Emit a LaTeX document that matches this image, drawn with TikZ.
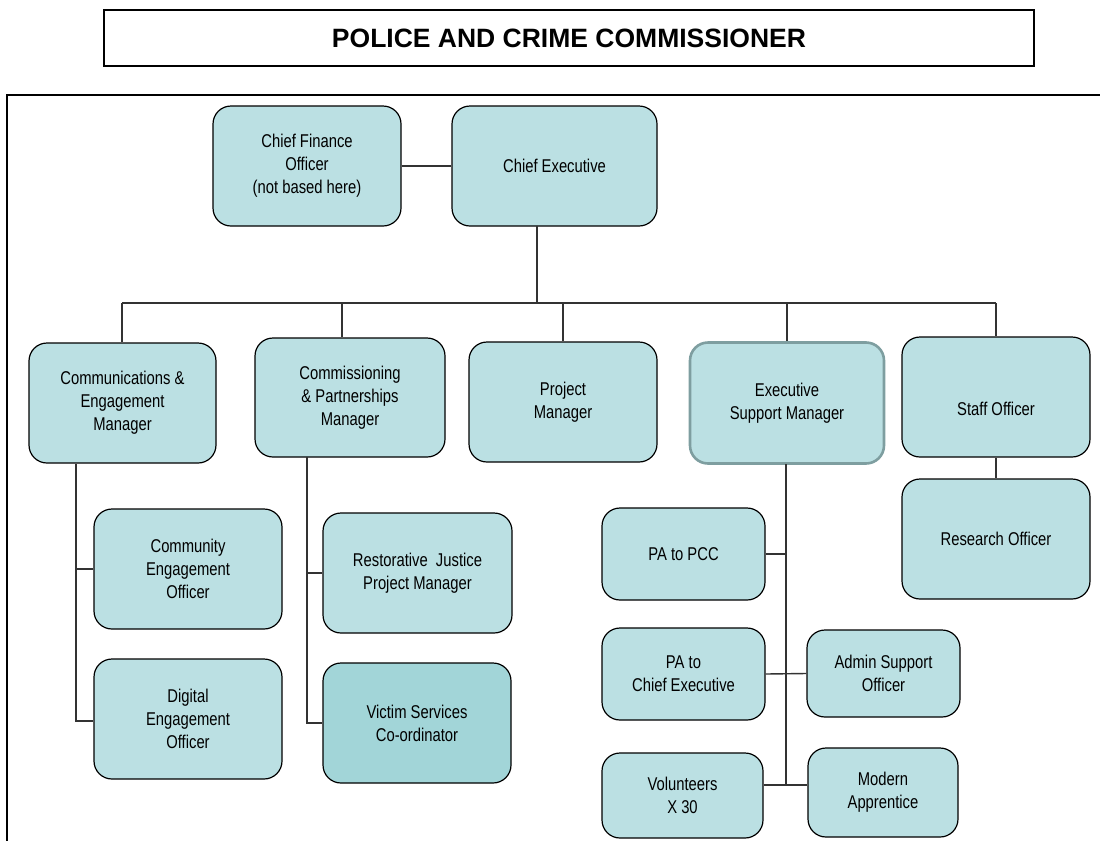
\documentclass[tikz,border=0pt]{standalone}
\usepackage{fontspec}
\setmainfont{Liberation Sans}[FakeStretch=0.8]
\newfontfamily\titlefont{Liberation Sans}
\definecolor{boxfill}{HTML}{BBE0E3}
\definecolor{boxdark}{HTML}{A2D5D8}
\definecolor{greyedge}{HTML}{7E9EA0}
\definecolor{linecol}{HTML}{333333}
\tikzset{
  post/.style={draw=black, line width=1.2pt, fill=boxfill, rounded corners=18pt,
    align=center, inner sep=0pt, font=\fontsize{18.5}{23}\selectfont},
  posttext/.style={align=center, inner sep=0pt, font=\fontsize{18.5}{23}\selectfont},
  conn/.style={draw=linecol, line width=1.4pt},
}
\newcommand{\bx}[6]{% name, x1, y1, x2, y2, text
  \node[post, minimum width={(#4-#2)*1pt}, minimum height={(#5-#3)*1pt}] (#1) at ({(#2+#4)/2},{(#3+#5)/2}) {#6};}
\begin{document}
\begin{tikzpicture}[x=1pt,y=-1pt]
\useasboundingbox (0,0) rectangle (1100,841);
% title
\node[draw=black, line width=1.8pt, minimum width=930pt, minimum height=56pt, inner sep=0pt,
  font=\titlefont\bfseries\fontsize{26.5}{30}\selectfont] (pcc) at (569,38) {POLICE AND CRIME COMMISSIONER};
% frame
\coordinate (fl) at (7,95);
\coordinate (fr) at (1100,95);
\coordinate (fb) at (7,841);
\draw[line width=1.8pt] (fr) -- (fl) -- (fb);
% top row
\bx{cfo}{213}{106}{401}{226}{Chief Finance\\Officer\\(not based here)}
\bx{ce}{452}{106}{657}{226}{Chief Executive}
% second row
\bx{comm}{29}{343}{216}{463}{Communications \&\\Engagement\\Manager}
\bx{cpm}{255}{338}{445}{457}{Commissioning\\\& Partnerships\\Manager}
\bx{pm}{469}{342}{657}{462}{Project\\Manager}
\node[post, draw=greyedge, line width=2.6pt, minimum width=194pt, minimum height=121pt] (esm) at (787,403) {Executive\\Support Manager};
\bx{so}{902}{337}{1090}{457}{}
\node[posttext] (sotext) at ([yshift=-12pt]so.center) {Staff Officer};
\bx{ro}{902}{479}{1090}{599}{Research Officer}
% left column
\bx{ceo}{94}{509}{282}{629}{Community\\Engagement\\Officer}
\bx{deo}{94}{659}{282}{779}{Digital\\Engagement\\Officer}
% commissioning column
\bx{rj}{323}{513}{512}{633}{Restorative~~Justice\\Project Manager}
\node[post, fill=boxdark, minimum width=188pt, minimum height=120pt] (vsc) at (417,723) {Victim Services\\Co-ordinator};
% exec column
\bx{papcc}{602}{508}{765}{600}{PA to PCC}
\bx{pace}{602}{628}{765}{720}{PA to\\Chief Executive}
\bx{aso}{807}{630}{960}{717}{Admin Support\\Officer}
\bx{vol}{602}{753}{763}{838}{Volunteers\\X 30}
\bx{ma}{808}{748}{958}{837}{Modern\\Apprentice}
% connectors
\coordinate (busl) at (122,303);
\coordinate (busr) at (996,303);
\coordinate (cebot) at (537,226);
\draw[conn] (cfo.east) -- (cfo.east -| ce.west);
\draw[conn] (cebot) -- (cebot |- busl);
\draw[conn] (busl) -- (busr);
\draw[conn] (busl) -- (busl |- comm.north);
\coordinate (cpmtop) at (342,303);
\draw[conn] (cpmtop) -- (cpmtop |- cpm.north);
\draw[conn] (pm.north |- busl) -- (pm.north);
\draw[conn] (esm.north |- busl) -- (esm.north);
\draw[conn] (busr) -- (busr |- so.north);
\draw[conn] (so.south) -- (ro.north);
% left column
\coordinate (lct) at (76,464);
\coordinate (lcb) at (76,721);
\draw[conn] (lct) -- (lcb) -- (lcb -| deo.west);
\draw[conn] (ceo.west) -- (ceo.west -| lct);
% commissioning column
\coordinate (cct) at (307,457);
\draw[conn] (cct) |- (vsc.west);
\draw[conn] (rj.west) -- (rj.west -| cct);
% exec column
\coordinate (ect) at (786,464);
\coordinate (ecb) at (786,785);
\draw[conn] (ect) -- (ecb);
\draw[conn] (papcc.east) -- (papcc.east -| ect);
\draw[conn] (pace.east) -- (aso.west);
\draw[conn] (ecb -| vol.east) -- (ecb -| ma.west);
\end{tikzpicture}
\end{document}
